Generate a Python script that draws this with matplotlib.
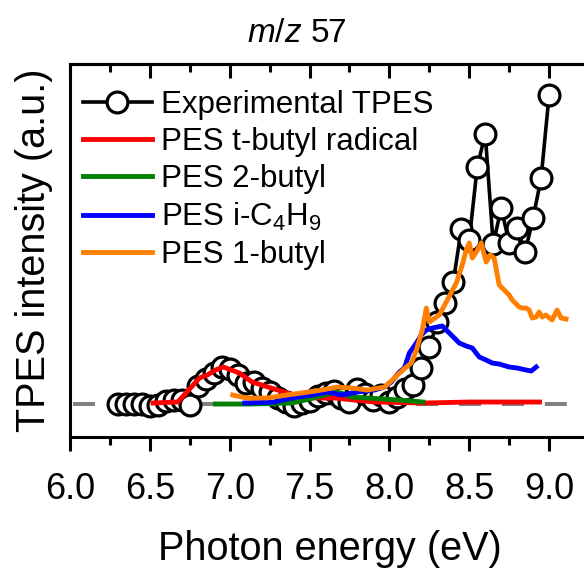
import matplotlib
matplotlib.use("Agg")
import matplotlib.pyplot as plt

plt.rcParams['font.family'] = ['Liberation Sans', 'DejaVu Sans']
plt.rcParams['mathtext.fontset'] = 'custom'
plt.rcParams['mathtext.rm'] = 'Liberation Sans'
plt.rcParams['mathtext.it'] = 'Liberation Sans:italic'
plt.rcParams['mathtext.default'] = 'regular'

# experimental threshold photoelectron spectrum, m/z 57
exp_energy = [6.30, 6.35, 6.40, 6.45, 6.50, 6.55, 6.60, 6.65, 6.70, 6.75,
              6.80, 6.85, 6.90, 6.95, 7.00, 7.05, 7.10, 7.15, 7.20, 7.25,
              7.30, 7.35, 7.40, 7.45, 7.50, 7.55, 7.60, 7.65, 7.70, 7.75,
              7.80, 7.85, 7.90, 7.95, 8.00, 8.05, 8.10, 8.15, 8.20, 8.25,
              8.30, 8.35, 8.40, 8.45, 8.50, 8.55, 8.60, 8.65, 8.70, 8.75,
              8.80, 8.85, 8.90, 8.95, 9.00]
exp_signal = [0.00, 0.00, 0.00, 0.00, -0.02, -0.01, 0.03, 0.04, 0.04, -0.01,
              0.18, 0.25, 0.31, 0.37, 0.35, 0.29, 0.21, 0.22, 0.16, 0.12,
              0.06, 0.02, -0.02, 0.01, 0.03, 0.08, 0.11, 0.13, 0.06, 0.02,
              0.15, 0.10, 0.04, 0.09, 0.02, 0.07, 0.15, 0.19, 0.36, 0.57,
              0.82, 1.01, 1.22, 1.75, 1.64, 2.37, 2.70, 1.60, 1.96, 1.61,
              1.76, 1.52, 1.86, 2.26, 3.09]

# simulated photoelectron spectra
tbutyl_energy = [6.52, 6.675, 6.76, 6.81, 6.86, 6.91, 6.96, 7.06, 7.14, 7.24,
                 7.36, 7.45, 7.55, 7.66, 7.78, 7.91, 8.22, 8.50, 8.94]
tbutyl_signal = [0.01, 0.02, 0.17, 0.26, 0.29, 0.34, 0.37, 0.31, 0.22, 0.17,
                 0.11, 0.07, 0.06, 0.06, 0.04, 0.02, 0.01, 0.02, 0.02]

butyl2_energy = [6.91, 7.125, 7.39, 7.50, 7.66, 7.70, 7.76, 7.86, 8.06, 8.21]
butyl2_signal = [0.00, 0.00, 0.01, 0.05, 0.12, 0.11, 0.07, 0.06, 0.04, 0.02]

ibutyl_energy = [7.094, 7.281, 7.388, 7.513, 7.613, 7.70, 7.80, 7.906, 7.969,
                 8.0125, 8.0625, 8.094, 8.125, 8.169, 8.20, 8.231, 8.269, 8.30,
                 8.331, 8.356, 8.388, 8.4375, 8.481, 8.519, 8.5625, 8.606,
                 8.644, 8.6875, 8.75, 8.80, 8.856, 8.8875, 8.919]
ibutyl_signal = [0.01, 0.02, 0.06, 0.09, 0.12, 0.09, 0.12, 0.14, 0.17,
                 0.22, 0.32, 0.36, 0.51, 0.61, 0.69, 0.74, 0.76, 0.77,
                 0.78, 0.74, 0.69, 0.61, 0.58, 0.56, 0.47, 0.44,
                 0.41, 0.40, 0.37, 0.36, 0.34, 0.33, 0.37]

butyl1_energy = [7.019, 7.106, 7.231, 7.356, 7.45, 7.575, 7.675, 7.7625, 7.8625,
                 7.969, 8.019, 8.05, 8.106, 8.1375, 8.169, 8.206, 8.231, 8.25,
                 8.3125, 8.3625, 8.419, 8.456, 8.481, 8.50, 8.519, 8.544, 8.575,
                 8.606, 8.631, 8.656, 8.6875, 8.719, 8.75, 8.769, 8.8125, 8.831,
                 8.856, 8.875, 8.894, 8.919, 8.9375, 8.956, 8.98, 9.019, 9.05,
                 9.075, 9.106]
butyl1_signal = [0.09, 0.06, 0.06, 0.09, 0.11, 0.14, 0.17, 0.16, 0.14,
                 0.17, 0.24, 0.29, 0.37, 0.41, 0.54, 0.74, 0.96, 0.82,
                 0.89, 1.04, 1.21, 1.39, 1.54, 1.61, 1.46, 1.52, 1.61,
                 1.42, 1.49, 1.46, 1.19, 1.14, 1.09, 1.04, 0.97, 0.96,
                 0.96, 0.94, 0.86, 0.87, 0.92, 0.87, 0.89, 0.84, 0.94,
                 0.86, 0.85]

baseline_energy = [6.02, 9.11]
baseline_signal = [0.0, 0.0]

fig = plt.figure(figsize=(5.84, 5.68), dpi=100)
ax = fig.add_axes([0.1199, 0.2306, 0.8887, 0.6567])

ax.plot(baseline_energy, baseline_signal, color='#808080', lw=2.9,
        dashes=(5.45, 5.2), zorder=1)
ax.plot(exp_energy, exp_signal, 'k-o', lw=2.6, ms=15, mew=2.3, mfc='white',
        mec='black', label='Experimental TPES', zorder=2)
ax.plot(tbutyl_energy, tbutyl_signal, color='#ff0000', lw=3.5,
        label='PES t-butyl radical', zorder=3)
ax.plot(butyl2_energy, butyl2_signal, color='#008000', lw=3.5,
        label='PES 2-butyl', zorder=3)
ax.plot(ibutyl_energy, ibutyl_signal, color='#0000ff', lw=3.5,
        label='PES i-C$_4$H$_9$', zorder=3)
ax.plot(butyl1_energy, butyl1_signal, color='#ff8000', lw=3.5,
        label='PES 1-butyl', zorder=3)

ax.set_xlim(6.0, 9.25)
ax.set_ylim(-0.33, 3.40)
ax.set_xticks([6.0, 6.5, 7.0, 7.5, 8.0, 8.5, 9.0])
ax.set_xticks([6.25, 6.75, 7.25, 7.75, 8.25, 8.75], minor=True)
ax.set_yticks([])

for s in ax.spines.values():
    s.set_linewidth(2.2)
ax.tick_params(axis='x', which='major', direction='out', length=10, width=2.2,
               labelsize=26, pad=15)
ax.tick_params(axis='x', which='minor', direction='out', length=5.5, width=2.2)

# mirrored ticks on the top spine point into the plot
top = ax.secondary_xaxis('top')
top.set_xticks([6.0, 6.5, 7.0, 7.5, 8.0, 8.5, 9.0])
top.set_xticks([6.25, 6.75, 7.25, 7.75, 8.25, 8.75], minor=True)
top.tick_params(which='major', direction='in', length=10, width=2.2, labeltop=False)
top.tick_params(which='minor', direction='in', length=5.5, width=2.2)
top.spines['top'].set_linewidth(2.2)

ax.set_xlabel('Photon energy (eV)', fontsize=28.5, labelpad=17)
ax.set_ylabel('TPES intensity (a.u.)', fontsize=28.5, labelpad=12)
fig.text(297 / 584, 1 - 34 / 568, r'$\mathit{m/z}$ 57', fontsize=24,
         ha='center', va='center')

ax.legend(loc='upper left', bbox_to_anchor=(0.025, 0.93), frameon=False,
          fontsize=22.5, handlelength=2.2, handletextpad=0.3,
          labelspacing=0.22, borderpad=0, borderaxespad=0, numpoints=1)

fig.savefig('out.png', dpi=100)
